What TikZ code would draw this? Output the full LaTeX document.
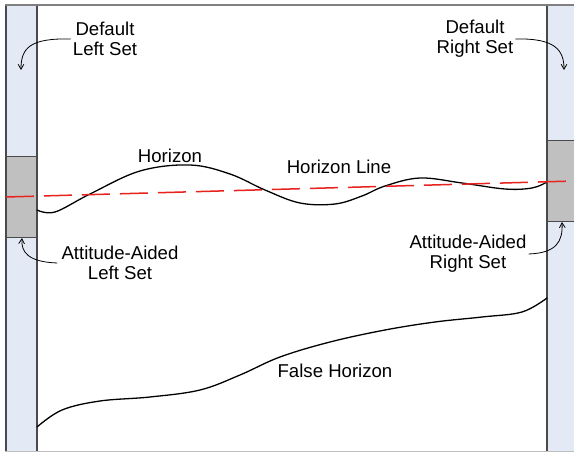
\documentclass[tikz,border=0pt]{standalone}
\usepackage{fontspec}
\setmainfont{Liberation Sans}
\usetikzlibrary{arrows.meta}
\definecolor{stripblue}{HTML}{E4EAF5}
\definecolor{boxgray}{HTML}{C0C0C0}
\definecolor{edgegray}{HTML}{4A4A4A}
\definecolor{dashred}{HTML}{E8231E}
\tikzset{
  strip/.style={fill=stripblue,draw=none},
  stripedge/.style={draw=edgegray,line width=1.1pt},
  setbox/.style={fill=boxgray,draw=edgegray,line width=1pt},
  lbl/.style={font=\fontsize{18.6pt}{20pt}\selectfont,align=center,inner sep=0pt},
  callout/.style={line width=0.8pt,-{Straight Barb[length=5pt,width=8pt,angle'=60]}},
  curve/.style={line width=1.3pt,line cap=round},
}
\begin{document}
\begin{tikzpicture}[x=1pt,y=-1pt]
\useasboundingbox (0,0) rectangle (574,452);
\fill[white] (0,0) rectangle (574,452);
% strips
\fill[strip] (6,5) rectangle (37,451);
\fill[strip] (547,5) rectangle (576,451);
% gray boxes
\draw[setbox] (6,157) rectangle (37,237);
\draw[setbox] (547,141) rectangle (578,221);
% borders
\draw[stripedge] (6,5) -- (6,451);
\draw[stripedge] (37,5) -- (37,451);
\draw[stripedge] (547,5) -- (547,451);
\draw[draw=gray,line width=1.1pt] (5,5) -- (574,5);
\draw[draw=gray!50,line width=1pt] (5,451) -- (574,451);
% horizon
\draw[curve] plot[smooth,tension=0.6] coordinates {(37,210) (55,212) (90,194) (140,171) (190,165) (230,174) (265,190) (300,203) (335,204) (362,196) (385,186) (420,178) (462,183) (505,189) (532,188) (547,182)};
% false horizon
\draw[curve] plot[smooth,tension=0.6] coordinates {(37,427) (62,410) (100,401) (150,397) (200,390) (240,375) (280,357) (330,342) (385,330) (435,322) (482,317) (522,312) (547,298)};
% horizon line
\draw[dashred,line width=1.5pt,dash pattern=on 28pt off 10pt] (6,197) -- (574,181);
% labels
\node[lbl] (dl) at (105,39) {Default\\Left Set};
\node[lbl] (dr) at (475,39) {Default\\Right Set};
\node[lbl] (al) at (120,263) {Attitude-Aided\\Left Set};
\node[lbl] (ar) at (468,254) {Attitude-Aided\\Right Set};
\node[lbl] (hz) at (170,156) {Horizon};
\node[lbl] (hl) at (339,167) {Horizon Line};
\node[lbl] (fh) at (335,371) {False Horizon};
% callout targets
\coordinate (tdl) at (21,70);
\coordinate (tdr) at (564,70);
\coordinate (tal) at (22,238);
\coordinate (tar) at (562,222);
\draw[callout] ([xshift=-2pt]dl.west) .. controls (30,38) and (21,48) .. (tdl);
\draw[callout] ([xshift=2pt]dr.east) .. controls (555,38) and (564,50) .. (tdr);
\draw[callout] ([xshift=-4pt]al.west) .. controls (28,262) and (21,252) .. (tal);
\draw[callout] ([xshift=2pt]ar.east) .. controls (556,253) and (563,242) .. (tar);
\end{tikzpicture}
\end{document}
